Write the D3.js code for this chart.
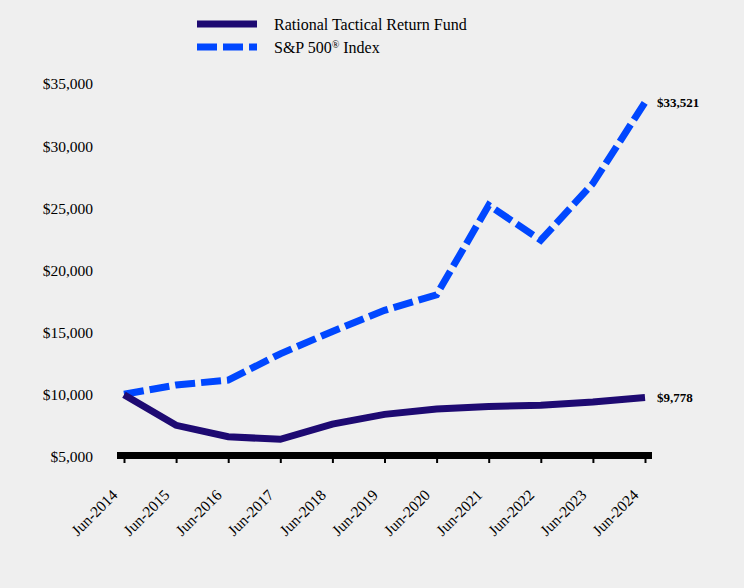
<!DOCTYPE html>
<html><head><meta charset="utf-8">
<script src="https://cdn.jsdelivr.net/npm/d3@7"></script>
<style>
html,body{margin:0;padding:0;background:#efefef;}
svg{display:block;font-family:"Liberation Serif","Times New Roman",serif;}
</style></head>
<body><svg id="c" width="744" height="588"></svg>
<script>
const categories = ["Jun-2014","Jun-2015","Jun-2016","Jun-2017","Jun-2018","Jun-2019","Jun-2020","Jun-2021","Jun-2022","Jun-2023","Jun-2024"];
const fundValues = [10000, 7550, 6630, 6420, 7650, 8430, 8860, 9060, 9160, 9420, 9778];
const spValues = [10050, 10790, 11190, 13300, 15100, 16800, 18050, 25250, 22440, 27000, 33521];
const yTicks = [5000, 10000, 15000, 20000, 25000, 30000, 35000];
const seriesNames = ["Rational Tactical Return Fund", "S&P 500"];
const endLabels = ["$9,778", "$33,521"];

const svg = d3.select("#c");
const x = d3.scalePoint().domain(categories).range([124, 645]);
const y = d3.scaleLinear().domain([5000, 35000]).range([457, 84]);

// y-axis labels
const fmt = d3.format("$,");
svg.append("g").selectAll("text").data(yTicks).join("text")
  .attr("x", 93).attr("y", d => y(d)).attr("dy", "0.35em")
  .attr("text-anchor", "end").attr("font-size", 15.5).attr("fill", "#000")
  .text(d => fmt(d));

// x axis
const xAxis = d3.axisBottom(x).tickSize(4).tickPadding(6).tickFormat(d => d);
const gx = svg.append("g").attr("transform", "translate(0,459)").call(xAxis);
gx.select(".domain").remove();
gx.selectAll(".tick line").attr("stroke", "#000").attr("stroke-width", 2);
gx.selectAll(".tick text")
  .attr("font-family", "Liberation Serif, serif").attr("font-size", 15.5).attr("fill", "#000")
  .attr("text-anchor", "end")
  .attr("x", 0).attr("y", 0).attr("dx", 0).attr("dy", 0)
  .attr("transform", "translate(-6,37) rotate(-45)");
svg.append("rect").attr("x", 117).attr("y", 452).attr("width", 535).attr("height", 7).attr("fill", "#000");

const line = d3.line().x((d, i) => x(categories[i])).y(d => y(d));

svg.append("path").datum(spValues).attr("d", line)
  .attr("fill", "none").attr("stroke", "#0047ff").attr("stroke-width", 7)
  .attr("stroke-dasharray", "20,6").attr("stroke-linejoin", "miter");
svg.append("path").datum(fundValues).attr("d", line)
  .attr("fill", "none").attr("stroke", "#1e0a72").attr("stroke-width", 7)
  .attr("stroke-linejoin", "miter");

// end labels
const last = categories.length - 1;
svg.append("text").attr("x", 657).attr("y", y(spValues[last])).attr("dy", "0.35em")
  .attr("font-size", 13).attr("font-weight", "bold").text(endLabels[1]);
svg.append("text").attr("x", 657).attr("y", y(fundValues[last])).attr("dy", "0.35em")
  .attr("font-size", 13).attr("font-weight", "bold").text(endLabels[0]);

// legend
const lg = svg.append("g");
lg.append("line").attr("x1", 197).attr("x2", 257).attr("y1", 24).attr("y2", 24)
  .attr("stroke", "#1e0a72").attr("stroke-width", 7);
lg.append("line").attr("x1", 197).attr("x2", 257).attr("y1", 47).attr("y2", 47)
  .attr("stroke", "#0047ff").attr("stroke-width", 7).attr("stroke-dasharray", "20,6");
lg.append("text").attr("x", 274).attr("y", 24).attr("dy", "0.35em").attr("font-size", 16)
  .text(seriesNames[0]);
const t2 = lg.append("text").attr("x", 274).attr("y", 47).attr("dy", "0.35em").attr("font-size", 16);
t2.append("tspan").text(seriesNames[1]);
t2.append("tspan").attr("font-size", 10).attr("dy", "-0.5em").text("®");
t2.append("tspan").attr("dy", "0.35em").text(" Index");
</script></body></html>
